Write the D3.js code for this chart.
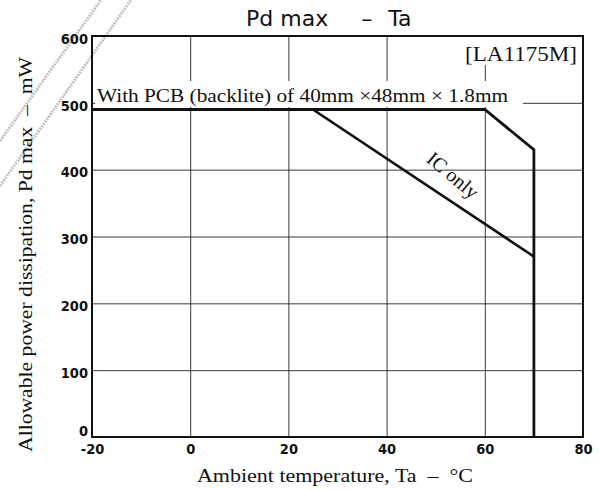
<!DOCTYPE html>
<html>
<head>
<meta charset="utf-8">
<script src="https://cdnjs.cloudflare.com/ajax/libs/d3/7.8.5/d3.min.js"></script>
<style>
  body { margin: 0; background: #fff; }
  svg { display: block; }
  .serif { font-family: "Liberation Serif", "Times New Roman", serif; fill: #111; white-space: pre; }
  .tick text { font-family: "DejaVu Sans Condensed", "DejaVu Sans", sans-serif; font-weight: bold; font-size: 14.5px; fill: #111; white-space: pre; }
</style>
</head>
<body>
<svg width="599" height="490"></svg>
<script>
// data
var xTicks = [-20, 0, 20, 40, 60, 80];
var yTicks = [0, 100, 200, 300, 400, 500, 600];

// with PCB (backlite) 40mm x 48mm x 1.8mm
var pcbTemp = [-20, 60, 70, 70];
var pcbPower = [490, 490, 430, 0];

// IC only
var icTemp = [-20, 25, 70];
var icPower = [490, 490, 270];

var svg = d3.select("svg"),
    margin = {top: 36, right: 16, bottom: 53, left: 92},
    width = +svg.attr("width") - margin.left - margin.right,
    height = +svg.attr("height") - margin.top - margin.bottom;

// scan marks in the corner
var marks = svg.append("g").attr("stroke", "#c4c4c4").attr("stroke-width", 3)
    .attr("stroke-dasharray", "2,1");
marks.append("line").attr("x1", 0).attr("y1", 141).attr("x2", 101).attr("y2", 0);
marks.append("line").attr("x1", 0).attr("y1", 186).attr("x2", 131).attr("y2", 0);

var g = svg.append("g")
    .attr("transform", "translate(" + margin.left + "," + margin.top + ")");

var x = d3.scaleLinear().domain([-20, 80]).range([0, width]);
var y = d3.scaleLinear().domain([0, 600]).range([height, 0]);

//grid + tick labels
var xAxis = g.append("g")
    .attr("class", "x axis")
    .attr("transform", "translate(0," + height + ")")
    .call(d3.axisBottom(x).tickValues(xTicks).tickSize(-height).tickPadding(7)
        .tickFormat(function(d) { return d < 0 ? "-" + Math.abs(d) : d; }));

var yAxis = g.append("g")
    .attr("class", "y axis")
    .call(d3.axisLeft(y).tickValues(yTicks).tickSize(-width).tickPadding(4));

g.selectAll(".axis .domain").remove();
g.selectAll(".axis .tick line").attr("stroke", "#222").attr("stroke-width", 0.9);
yAxis.selectAll(".tick text")
    .attr("dy", function(d) { return d == 0 ? "-0.1em" : "0.5em"; });

// labels inside the plot (white boxes hide the grid)
var pcbLabel = g.append("g");
pcbLabel.append("rect")
    .attr("x", 3).attr("y", 45).attr("width", 428).attr("height", 26)
    .attr("fill", "#fff");
pcbLabel.append("text")
    .attr("class", "serif")
    .attr("x", 5).attr("y", 66)
    .attr("font-size", 18.5)
    .attr("textLength", 411).attr("lengthAdjust", "spacingAndGlyphs")
    .text("With PCB (backlite) of 40mm \u00d748mm \u00d7 1.8mm");

var partLabel = g.append("g");
partLabel.append("rect")
    .attr("x", width - 125).attr("y", 1).attr("width", 124).attr("height", 28)
    .attr("fill", "#fff");
partLabel.append("text")
    .attr("class", "serif")
    .attr("x", width - 6).attr("y", 25)
    .attr("text-anchor", "end")
    .attr("font-size", 21)
    .attr("textLength", 112).attr("lengthAdjust", "spacingAndGlyphs")
    .text("[LA1175M]");

// frame
g.append("rect")
    .attr("width", width).attr("height", height)
    .attr("fill", "none").attr("stroke", "#111").attr("stroke-width", 2);

var line = d3.line()
    .x(function(d) { return x(d[0]); })
    .y(function(d) { return y(d[1]); });

g.append("path")
    .datum(d3.zip(icTemp, icPower))
    .attr("fill", "none").attr("stroke", "#111").attr("stroke-width", 2.6)
    .attr("d", line);

g.append("path")
    .datum(d3.zip(pcbTemp, pcbPower))
    .attr("fill", "none").attr("stroke", "#111").attr("stroke-width", 2.8)
    .attr("stroke-linejoin", "miter")
    .attr("d", line);

g.append("text")
    .attr("class", "serif")
    .attr("font-size", 20)
    .attr("text-anchor", "middle")
    .attr("transform", "translate(" + x(52.6) + "," + (y(390) + 4) + ") rotate(40)")
    .text("IC only");

// title
var title = svg.append("text")
    .attr("x", 246).attr("y", 26)
    .attr("font-family", "DejaVu Sans, sans-serif")
    .attr("font-size", 22)
    .attr("fill", "#111");
title.append("tspan").text("Pd max");
title.append("tspan").attr("dx", 33).text("\u2013");
title.append("tspan").attr("dx", 16).text("Ta");

// axis titles
svg.append("text")
    .attr("class", "serif")
    .attr("x", 197).attr("y", 482)
    .attr("font-size", 18)
    .attr("textLength", 276).attr("lengthAdjust", "spacingAndGlyphs")
    .text("Ambient temperature, Ta  \u2013  \u00b0C");

svg.append("text")
    .attr("class", "serif")
    .attr("transform", "translate(32,452) rotate(-90)")
    .attr("font-size", 19)
    .attr("textLength", 395).attr("lengthAdjust", "spacingAndGlyphs")
    .text("Allowable power dissipation, Pd max  \u2013  mW");
</script>
</body>
</html>
